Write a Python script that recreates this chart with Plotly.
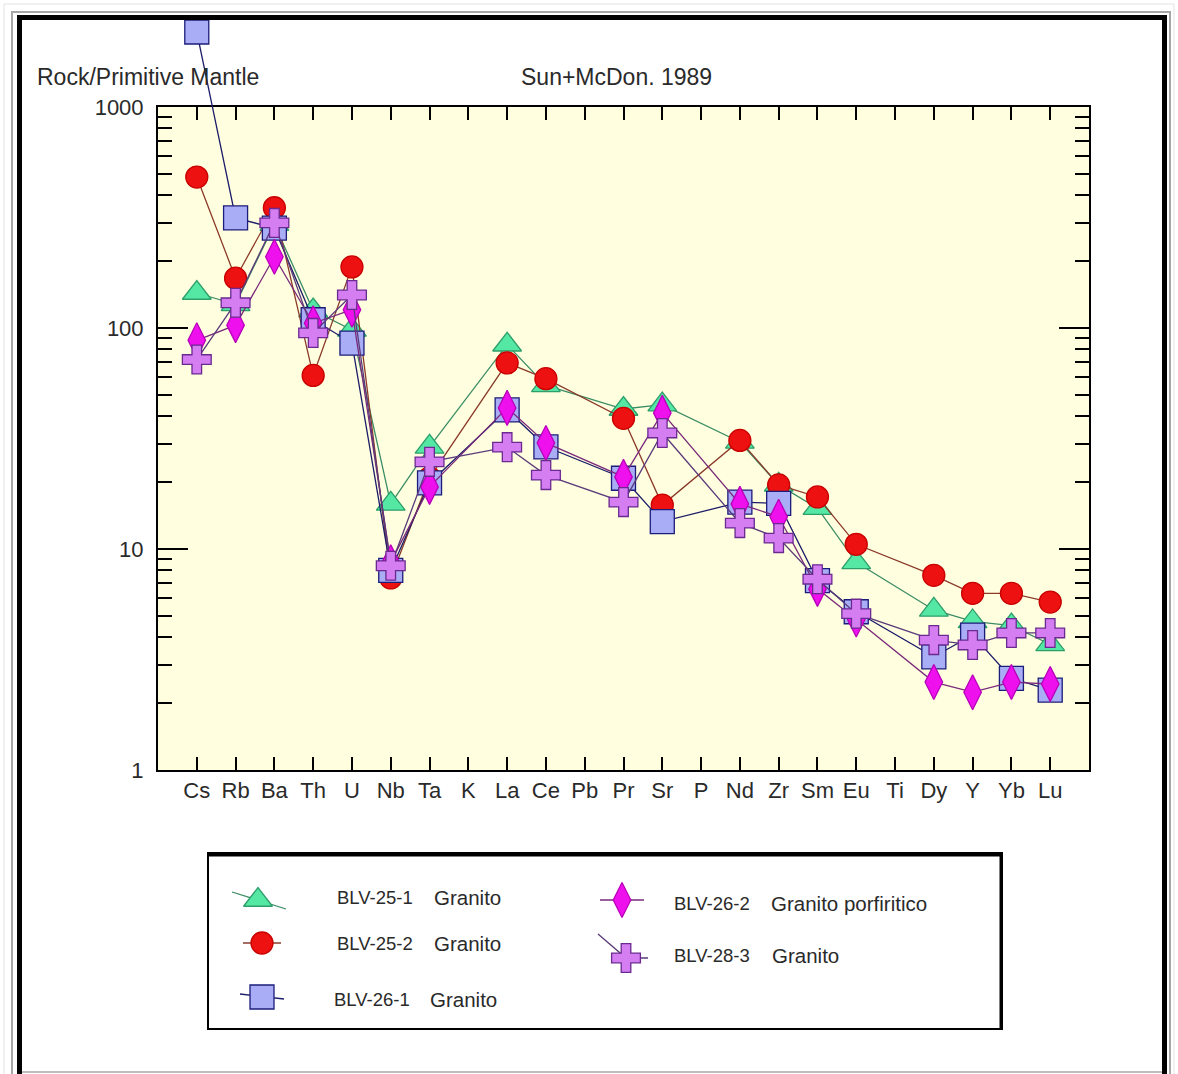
import plotly.graph_objects as go

W, H = 1178, 1074

# ---------------- data ----------------
elements = ["Cs", "Rb", "Ba", "Th", "U", "Nb", "Ta", "K", "La", "Ce", "Pb", "Pr",
            "Sr", "P", "Nd", "Zr", "Sm", "Eu", "Ti", "Dy", "Y", "Yb", "Lu"]

blv_25_1 = [144, 128, 295, 120, 98, 16.0, 29, None, 84, 55, None, 43,
            45, None, 30.5, 19.5, 15.3, 8.7, None, 5.3, 4.7, 4.5, 3.7]
blv_25_2 = [482, 168, 350, 61, 189, 7.4, 21, None, 69.5, 59, None, 39,
            15.8, None, 31, 19.5, 17.2, 10.5, None, 7.6, 6.3, 6.3, 5.75]
blv_26_1 = [2185, 315, 283, 109, 85.5, 8.0, 19.9, None, 42.6, 29, None, 20.9,
            13.3, None, 16.3, 16.1, 7.2, 5.2, None, 3.25, 4.08, 2.6, 2.3]
blv_26_2 = [88, 103, 210, 105, 121, 8.7, 19.1, None, 43.5, 30.2, None, 21.2,
            41.3, None, 16.0, 14.0, 6.6, 4.8, None, 2.5, 2.25, 2.5, 2.45]
blv_28_3 = [72, 130, 299, 95, 141, 8.4, 24.8, None, 28.9, 21.6, None, 16.3,
            33.5, None, 13.1, 11.2, 7.3, 5.1, None, 3.87, 3.68, 4.17, 4.17]

sample_ids = ["BLV-25-1", "BLV-25-2", "BLV-26-1", "BLV-26-2", "BLV-28-3"]
rock_names = ["Granito", "Granito", "Granito", "Granito porfiritico", "Granito"]
series_values = [blv_25_1, blv_25_2, blv_26_1, blv_26_2, blv_28_3]

y_tick_vals = [1, 10, 100, 1000]
y_tick_text = ["1", "10", "100", "1000"]

# ---------------- styles ----------------
styles = [
    dict(symbol="triangle-up", size=25, fill="#55E8A5", edge="#2E9E6A", line="#3C8C64"),
    dict(symbol="circle", size=22, fill="#EE1111", edge="#C80000", line="#8B3A2A"),
    dict(symbol="square", size=24, fill="#A8ADF5", edge="#1C1C7A", line="#1C1C6A"),
    dict(symbol="diamond-tall", size=25, fill="#EE11EE", edge="#B800B8", line="#7A2A7A"),
    dict(symbol="cross", size=24, fill="#D47EF2", edge="#6A2A90", line="#5A3A7A"),
]

FONT = "Liberation Sans, Arial, sans-serif"
TXT = "#2a2a2a"

# plot box in pixels
PLOT_L, PLOT_R, PLOT_T, PLOT_B = 158, 1089, 107, 770


def px(x):
    return x / W


def py(y):
    return 1 - y / H


x_dom = [px(PLOT_L), px(PLOT_R)]
y_dom = [py(PLOT_B), py(PLOT_T)]
decades = 3
ppd = (y_dom[1] - y_dom[0]) / decades
y3_top = decades + (1 - y_dom[1]) / ppd

fig = go.Figure()

for vals, st, sid in zip(series_values, styles, sample_ids):
    fig.add_trace(go.Scatter(
        x=elements, y=vals, name=sid, mode="lines+markers", connectgaps=True,
        line=dict(color=st["line"], width=1.3),
        marker=dict(symbol=st["symbol"], size=st["size"], color=st["fill"],
                    line=dict(color=st["edge"], width=1.3)),
        xaxis="x", yaxis="y", showlegend=False, hoverinfo="x+y+name",
    ))

# part of BLV-26-1 that runs above the plot box (drawn on an aligned overflow axis)
st = styles[2]
fig.add_trace(go.Scatter(
    x=elements[:2], y=blv_26_1[:2], mode="lines+markers",
    line=dict(color=st["line"], width=1.3),
    marker=dict(symbol=st["symbol"], size=st["size"], color=st["fill"],
                line=dict(color=st["edge"], width=1.3)),
    xaxis="x", yaxis="y3", showlegend=False, hoverinfo="skip",
))

# ---------------- manual legend ----------------
legend_marker_pos = [(258, 900), (262, 943), (262, 997), (622, 900), (626, 958)]
legend_stubs = [
    [(232, 892), (286, 909)],
    [(243, 943), (281, 943)],
    [(240, 994), (284, 999)],
    [(600, 900), (644, 900)],
    [(598, 934), (626, 958), (648, 958)],
]
legend_id_pos = [(335, 897), (335, 943), (332, 999), (672, 903), (672, 955)]
legend_rock_pos = [(432, 897), (432, 943), (428, 999), (769, 903), (770, 955)]

for st, stub, (mx, my) in zip(styles, legend_stubs, legend_marker_pos):
    fig.add_trace(go.Scatter(
        x=[p[0] for p in stub], y=[p[1] for p in stub], mode="lines",
        line=dict(color=st["line"], width=1.3),
        xaxis="x2", yaxis="y2", showlegend=False, hoverinfo="skip", cliponaxis=False,
    ))
    fig.add_trace(go.Scatter(
        x=[mx], y=[my], mode="markers",
        marker=dict(symbol=st["symbol"], size=st["size"], color=st["fill"],
                    line=dict(color=st["edge"], width=1.3)),
        xaxis="x2", yaxis="y2", showlegend=False, hoverinfo="skip", cliponaxis=False,
    ))

annotations = [
    dict(text="Rock/Primitive Mantle", x=px(35), y=py(77), xanchor="left", yanchor="middle",
         font=dict(size=23, color=TXT, family=FONT)),
    dict(text="Sun+McDon. 1989", x=px(616), y=py(77), xanchor="center", yanchor="middle",
         font=dict(size=23, color=TXT, family=FONT)),
]
for sid, rock, (ix, iy), (rx, ry) in zip(sample_ids, rock_names, legend_id_pos, legend_rock_pos):
    annotations.append(dict(text=sid, x=px(ix), y=py(iy), xanchor="left", yanchor="middle",
                            font=dict(size=18.5, color=TXT, family=FONT)))
    annotations.append(dict(text=rock, x=px(rx), y=py(ry), xanchor="left", yanchor="middle",
                            font=dict(size=20.5, color=TXT, family=FONT)))
for a in annotations:
    a.update(xref="paper", yref="paper", showarrow=False)


def rect(x0, y0, x1, y1, color, width):
    return dict(type="rect", xref="paper", yref="paper", x0=px(x0), x1=px(x1),
                y0=py(y1), y1=py(y0), line=dict(color=color, width=width),
                fillcolor="rgba(0,0,0,0)", layer="above")


def seg(x0, y0, x1, y1, color, width):
    return dict(type="line", xref="paper", yref="paper", x0=px(x0), x1=px(x1),
                y0=py(y0), y1=py(y1), line=dict(color=color, width=width), layer="above")


shapes = [
    # yellow plot background
    dict(type="rect", xref="x domain", yref="y domain", x0=0, x1=1, y0=0, y1=1,
         fillcolor="#FFFFE0", line=dict(width=0), layer="below"),
    # page frames
    rect(4, 4, 1174, 1090, "#E2E2E2", 1),
    rect(12, 12, 1170, 1090, "#A6A6A6", 2),
    rect(19.5, 17.5, 1164.5, 1100, "#000000", 5),
    seg(22, 1072, 1162, 1072, "#BDBDBD", 2),
    # legend box
    rect(208, 853, 1002, 1029, "#000000", 2),
    seg(208, 854.5, 1003, 854.5, "#000000", 4),
    seg(1001, 853, 1001, 1029, "#000000", 3),
]

axis_common = dict(showline=True, linecolor="black", linewidth=2, mirror="ticks",
                   ticks="inside", tickcolor="black", tickwidth=1.5, showgrid=False,
                   zeroline=False, automargin=False,
                   tickfont=dict(size=22, color=TXT, family=FONT))

fig.update_layout(
    width=W, height=H,
    margin=dict(l=0, r=0, t=0, b=0),
    paper_bgcolor="white",
    plot_bgcolor="rgba(0,0,0,0)",
    showlegend=False,
    xaxis=dict(domain=x_dom, anchor="y", type="category", categoryorder="array",
               categoryarray=elements, range=[-1, len(elements)], ticklen=13,
               **axis_common),
    yaxis=dict(domain=y_dom, anchor="x", type="log", range=[0, decades],
               tickmode="array", tickvals=y_tick_vals, ticktext=y_tick_text,
               ticklen=30, ticklabelstandoff=8,
               minor=dict(ticks="inside", ticklen=14, tickwidth=1.5, tickcolor="black",
                          dtick="D1", showgrid=False),
               **axis_common),
    yaxis3=dict(domain=[y_dom[1], 1], anchor="x", type="log", range=[decades, y3_top],
                visible=False, fixedrange=True),
    xaxis2=dict(domain=[0, 1], anchor="y2", range=[0, W], visible=False, fixedrange=True),
    yaxis2=dict(domain=[0, 1], anchor="x2", range=[H, 0], visible=False, fixedrange=True),
    annotations=annotations,
    shapes=shapes,
)

fig.write_html("out.html", config={"displayModeBar": False},
               post_script="document.body.style.margin='0';document.body.style.overflow='hidden';")
